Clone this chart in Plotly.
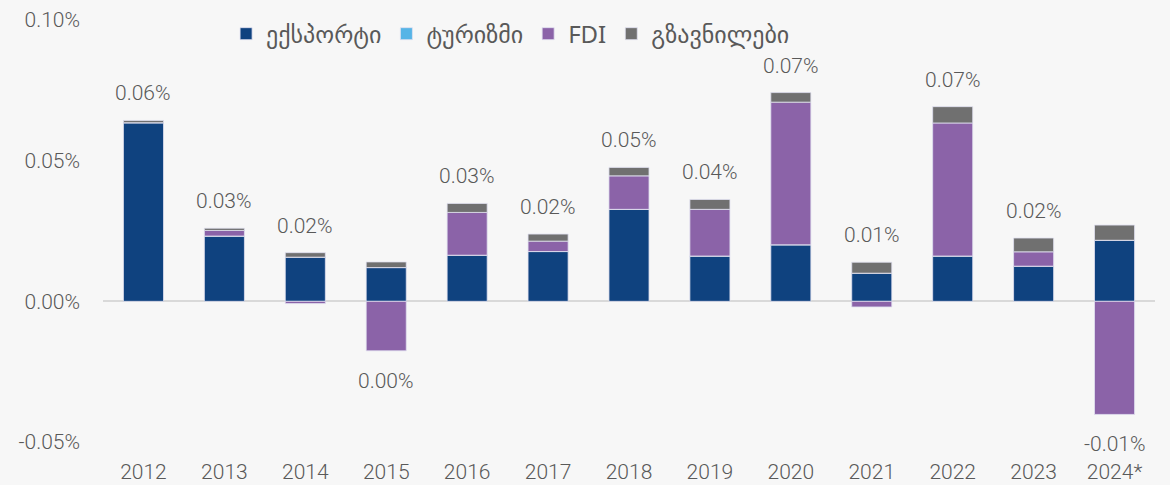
import plotly.graph_objects as go

years = ["2012", "2013", "2014", "2015", "2016", "2017", "2018", "2019", "2020", "2021", "2022", "2023", "2024*"]
export = [0.0635, 0.0232, 0.0157, 0.0120, 0.0164, 0.0177, 0.0327, 0.0161, 0.0201, 0.0100, 0.0161, 0.0125, 0.0217]
tourism = [0, 0, 0, 0, 0, 0, 0, 0, 0, 0, 0, 0, 0]
fdi = [0.0, 0.0020, -0.0008, -0.0176, 0.0152, 0.0037, 0.0119, 0.0166, 0.0507, -0.0020, 0.0473, 0.0051, -0.0402]
remit = [0.0008, 0.0008, 0.0016, 0.0020, 0.0032, 0.0025, 0.0030, 0.0035, 0.0034, 0.0039, 0.0058, 0.0049, 0.0054]

names = ["ექსპორტი", "ტურიზმი", "FDI", "გზავნილები"]
colors = ["#0F427F", "#56B4E6", "#8B63A8", "#707070"]
series = [export, tourism, fdi, remit]

NUMFONT = "Roboto, sans-serif"
LEGFONT = "Noto Sans, DejaVu Sans, sans-serif"
TXT = "#595959"
NS = 21
NUM = dict(family=NUMFONT, size=NS, color=TXT, weight=300)

fig = go.Figure()
for name, vals, col in zip(names, series, colors):
    fig.add_trace(go.Bar(
        x=years, y=vals, name=name,
        marker=dict(color=col, line=dict(color="rgba(225,225,240,0.8)", width=1)),
    ))

# total labels (x given as category index)
for i, yr in enumerate(years):
    vals = [s[i] for s in series]
    total = sum(vals)
    pos = sum(v for v in vals if v > 0)
    neg = sum(v for v in vals if v < 0)
    label = f"{round(total, 2) + 0.0:.2f}%"
    if total >= 0:
        fig.add_annotation(x=i, y=pos, text=label, showarrow=False,
                           yanchor="middle", yshift=27, font=NUM)
    else:
        fig.add_annotation(x=i, y=neg, text=label, showarrow=False,
                           yanchor="middle", yshift=-30, font=NUM)

fig.update_layout(
    barmode="relative",
    width=1170, height=485,
    margin=dict(l=103, r=15, t=17, b=43),
    paper_bgcolor="#F7F7F7", plot_bgcolor="#F7F7F7",
    font=NUM,
    showlegend=True,
    legend=dict(orientation="h", x=0.117, xanchor="left", y=1.02, yanchor="top",
                font=dict(family=LEGFONT, size=24, color=TXT, weight=400),
                bgcolor="rgba(0,0,0,0)", traceorder="normal"),
    bargap=0.505,
)
fig.update_xaxes(type="category", range=[-0.5, len(years) - 0.5], showgrid=False,
                 showline=False, ticks="", ticklabelstandoff=15, automargin=False,
                 tickfont=NUM)
fig.update_yaxes(range=[-0.05, 0.10], tickvals=[-0.05, 0.0, 0.05, 0.10],
                 ticktext=["-0.05%", "0.00%", "0.05%", "0.10%"],
                 showgrid=False, zeroline=True, zerolinecolor="#D9D9D9", zerolinewidth=2,
                 ticks="", ticklabelstandoff=22, automargin=False,
                 tickfont=NUM)

fig.write_html("out.html", config={"displayModeBar": False},
               post_script="document.body.style.margin='0';")
